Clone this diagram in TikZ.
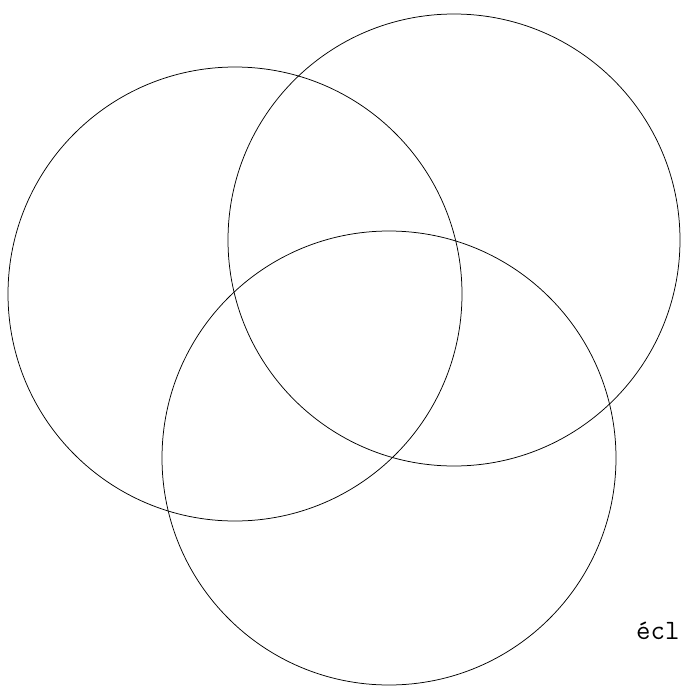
\documentclass[tikz,border=0pt]{standalone}
\usepackage{tikz}
\usetikzlibrary{positioning}
\tikzset{
  ring/.style = {line width=0.75pt, black},
  lbl/.style  = {font=\ttfamily\fontsize{28}{30}\selectfont, inner sep=0pt,
                 anchor=base west},
}

\begin{document}
\begin{tikzpicture}[x=1pt, y=-1pt]
  \useasboundingbox (0,0) rectangle (681,686);
  % ---- centres of the three rings ----
  \coordinate (cl) at (235,294);
  \coordinate (cr) at (454,240);
  \coordinate (cb) at (389,458);
  \draw[ring] (cl) circle[radius=227pt];
  \draw[ring] (cr) circle[radius=226pt];
  \draw[ring] (cb) circle[radius=227pt];
  % ---- label ----
  \node[lbl] (tag) at (636,639) {écl};
\end{tikzpicture}
\end{document}
